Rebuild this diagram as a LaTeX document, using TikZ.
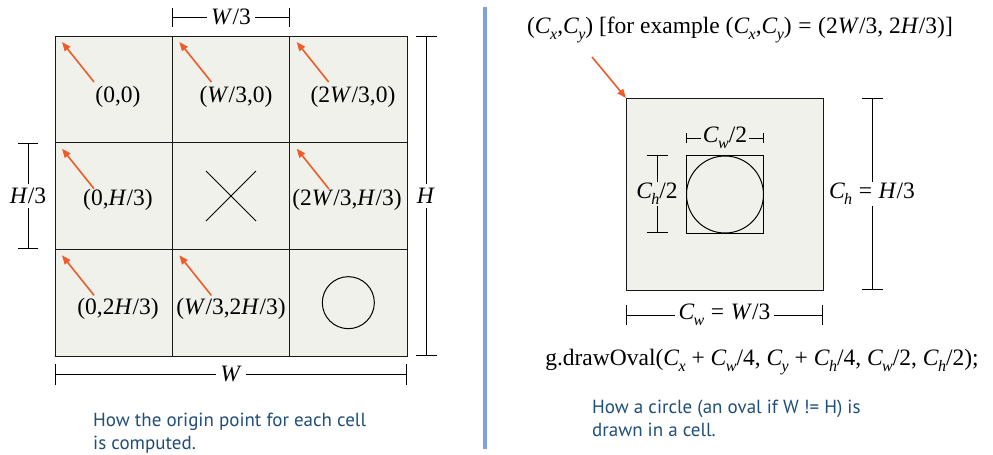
\documentclass[tikz,border=0pt]{standalone}
\usepackage{fontspec}
\setmainfont{Liberation Serif}
\newfontfamily\capfont{PT Sans}
\usetikzlibrary{arrows.meta}
\definecolor{cellfill}{HTML}{EFF1EA}
\definecolor{arrowred}{HTML}{F15A29}
\definecolor{capblue}{HTML}{1F4E79}
\definecolor{divblue}{HTML}{7EA1D9}
\newcommand\vi[1]{\textit{#1}}
\newcommand\Cs[1]{\textit{C}\kern-0.03em\raisebox{-0.25em}{\fontsize{16}{16}\selectfont\itshape #1}}
\newcommand\eqs{\hspace{0.28em}=\hspace{0.28em}}
\tikzset{
  cellbox/.style={draw=black!90, line width=0.9pt, fill=cellfill, anchor=north west, inner sep=0pt, outer sep=0pt},
  dimline/.style={line width=0.8pt, {Bar[width=#1]}-{Bar[width=#1]}},
  dimline/.default=20pt,
  lbl/.style={font=\fontsize{23.5}{28}\selectfont, inner sep=1pt},
  dimlbl/.style={font=\fontsize{23.5}{28}\selectfont, inner sep=4pt, fill=white},
  redarrow/.style={draw=arrowred, line width=1.6pt, -{Triangle[length=9pt,width=7pt]}},
  caption/.style={font=\capfont\fontsize{19}{23}\selectfont, text=capblue, align=left, inner sep=0pt, anchor=north west}
}
\begin{document}
\begin{tikzpicture}[x=1pt,y=-1pt]
\useasboundingbox (0,0) rectangle (993,455);
% ---------- left: grid ----------
\foreach \i in {0,1,2}{
  \foreach \j in {0,1,2}{
    \node[cellbox, minimum width=117.33pt, minimum height=106.67pt] (c\i\j) at ({55+117.33*\i},{36+106.67*\j}) {};
  }
}
\foreach \c in {c00,c10,c20,c01,c21,c02,c12}{
  \draw[redarrow] ([shift={(39,46)}]\c.north west) -- ([shift={(7,6)}]\c.north west);
}
\node[lbl] (l00) at (118,97) {(0,0)};
\node[lbl] (l10) at (236,97) {(\vi{W}/3,0)};
\node[lbl] (l20) at (353,97) {(2\vi{W}/3,0)};
\node[lbl] (l01) at (118,200) {(0,\vi{H}/3)};
\node[lbl] (l21) at (347,200) {(2\vi{W}/3,\vi{H}/3)};
\node[lbl] (l02) at (118,309) {(0,2\vi{H}/3)};
\node[lbl] (l12) at (231,309) {(\vi{W}/3,2\vi{H}/3)};
\draw[line width=0.9pt] (c11.center) ++(-25,-25) -- ++(50,50) ++(0,-50) -- ++(-50,50);
\node[draw, circle, line width=1pt, minimum size=52pt, inner sep=0pt] (circ) at (c22.center) {};
% dimensions
\draw[dimline=19pt] (c10.north west |- 0,17) coordinate (w3a) -- (c10.north east |- 0,17) coordinate (w3b)
  node[midway, dimlbl] (lw3) {\vi{W}/3};
\draw[dimline=21pt] (426,36) coordinate (ha) -- (426,356) coordinate (hb)
  node[midway, dimlbl] (lh) {\vi{H}};
\draw[dimline=20pt] (28,143) coordinate (h3a) -- (28,249) coordinate (h3b)
  node[midway, dimlbl] (lh3) {\vi{H}/3};
\draw[dimline=21pt] (55,374) coordinate (wa) -- (407,374) coordinate (wb)
  node[midway, dimlbl] (lw) {\vi{W}};
\node[caption] (capl) at (93,413) {How the origin point for each cell\\is computed.};
% ---------- divider ----------
\draw[divblue, line width=4pt] (485,7) -- (485,449);
% ---------- right ----------
\node[lbl] (title) at (740,30) {(\Cs{x},\Cs{y}) [for example (\Cs{x},\Cs{y})\eqs(2\vi{W}/3, 2\vi{H}/3)]};
\node[cellbox, minimum width=197pt, minimum height=192pt] (big) at (626,98) {};
\draw[redarrow] ([shift={(-34,-41)}]big.north west) -- (big.north west);
\node[draw, line width=1pt, minimum width=77pt, minimum height=78pt, inner sep=0pt, anchor=north west] (inner) at (686,155) {};
\node[draw, circle, line width=1pt, minimum size=77pt, inner sep=0pt] (oval) at (inner.center) {};
\draw[dimline=10pt] (inner.north west |- 0,138) -- (inner.north east |- 0,138)
  node[midway, dimlbl, fill=cellfill, inner sep=2pt] (lcw2) {\Cs{w}/2};
\draw[dimline=21pt] (657,155) -- (657,233)
  node[midway, dimlbl, fill=cellfill, inner sep=1pt] (lch2) {\Cs{h}/2};
\draw[dimline=21pt] (872,98) -- (872,290)
  node[midway, dimlbl, inner sep=1pt] (lch) {\Cs{h}\eqs\vi{H}/3};
\draw[dimline=20pt] (626,315) -- (823,315)
  node[midway, dimlbl] (lcw) {\Cs{w}\eqs\vi{W}/3};
\node[lbl] (code) at (762,362) {g.drawOval(\Cs{x} + \Cs{w}/4, \Cs{y} + \Cs{h}/4, \Cs{w}/2, \Cs{h}/2);};
\node[caption] (capr) at (592,400) {How a circle (an oval if W != H) is\\drawn in a cell.};
\end{tikzpicture}
\end{document}
